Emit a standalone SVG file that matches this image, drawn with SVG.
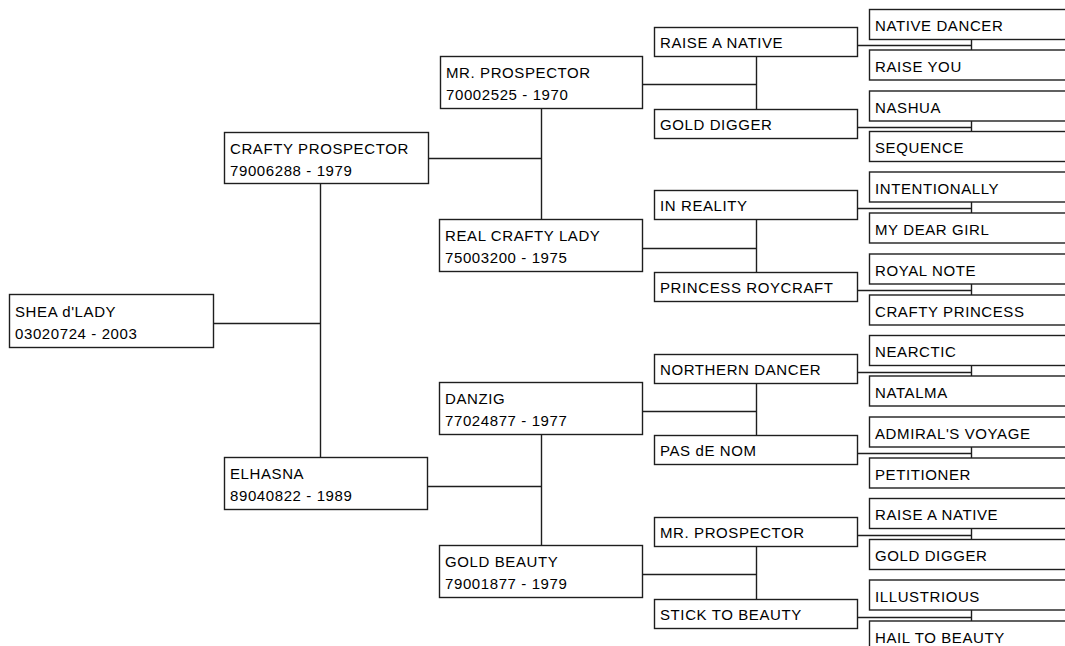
<svg xmlns="http://www.w3.org/2000/svg" width="1065" height="646" viewBox="0 0 1065 646">
<style>
.b{fill:#fff;stroke:#1e1e1e;stroke-width:1.4}
.c{fill:none;stroke:#1e1e1e;stroke-width:1.4}
text{font-family:"Liberation Sans",Arial,sans-serif;font-size:15px;letter-spacing:0.6px;fill:#000}
</style>
<rect width="1065" height="646" fill="#fff"/>
<g id="connectors" class="c">
<path d="M213 323.5H320.5M320.5 183.5V457"/>
<path d="M428 158.5H541.5M541.5 108.5V219"/>
<path d="M427 486.5H541.5M541.5 434.5V545"/>
<path d="M642 84.5H756.5M756.5 56V109"/>
<path d="M642 248.5H756.5M756.5 219.5V272"/>
<path d="M642 411.5H756.5M756.5 383V435.5"/>
<path d="M642 574.5H756.5M756.5 546V599"/>
<path d="M857 45.5H971.5M971.5 39.5V50"/>
<path d="M857 127.5H971.5M971.5 121V131.5"/>
<path d="M857 208.5H971.5M971.5 202V213"/>
<path d="M857 290.5H971.5M971.5 284V295"/>
<path d="M857 372.5H971.5M971.5 365.5V376"/>
<path d="M857 453.5H971.5M971.5 447V458"/>
<path d="M857 535.5H971.5M971.5 528.5V539.5"/>
<path d="M857 617.5H971.5M971.5 610V621"/>
</g>
<g id="n0"><rect class="b" x="9.5" y="294.5" width="204" height="53"/><text x="15" y="317">SHEA d'LADY</text><text x="15" y="339">03020724 - 2003</text></g>
<g id="n1"><rect class="b" x="224.5" y="132.5" width="204" height="51"/><text x="230" y="154">CRAFTY PROSPECTOR</text><text x="230" y="176">79006288 - 1979</text></g>
<g id="n2"><rect class="b" x="224.5" y="457.5" width="203" height="52"/><text x="230" y="479">ELHASNA</text><text x="230" y="501">89040822 - 1989</text></g>
<g id="n3"><rect class="b" x="440.5" y="56.5" width="202" height="52"/><text x="446" y="78">MR. PROSPECTOR</text><text x="446" y="100">70002525 - 1970</text></g>
<g id="n4"><rect class="b" x="439.5" y="219.5" width="203" height="52"/><text x="445" y="241">REAL CRAFTY LADY</text><text x="445" y="263">75003200 - 1975</text></g>
<g id="n5"><rect class="b" x="439.5" y="382.5" width="203" height="52"/><text x="445" y="404">DANZIG</text><text x="445" y="426">77024877 - 1977</text></g>
<g id="n6"><rect class="b" x="439.5" y="545.5" width="203" height="52"/><text x="445" y="567">GOLD BEAUTY</text><text x="445" y="589">79001877 - 1979</text></g>
<g id="n7"><rect class="b" x="654.5" y="27.5" width="203" height="29"/><text x="660" y="48">RAISE A NATIVE</text></g>
<g id="n8"><rect class="b" x="654.5" y="109.5" width="203" height="29"/><text x="660" y="130">GOLD DIGGER</text></g>
<g id="n9"><rect class="b" x="654.5" y="190.5" width="203" height="29"/><text x="660" y="211">IN REALITY</text></g>
<g id="n10"><rect class="b" x="654.5" y="272.5" width="203" height="29"/><text x="660" y="293">PRINCESS ROYCRAFT</text></g>
<g id="n11"><rect class="b" x="654.5" y="354.5" width="203" height="29"/><text x="660" y="375">NORTHERN DANCER</text></g>
<g id="n12"><rect class="b" x="654.5" y="435.5" width="203" height="29"/><text x="660" y="456">PAS dE NOM</text></g>
<g id="n13"><rect class="b" x="654.5" y="517.5" width="203" height="29"/><text x="660" y="538">MR. PROSPECTOR</text></g>
<g id="n14"><rect class="b" x="654.5" y="599.5" width="203" height="29"/><text x="660" y="620">STICK TO BEAUTY</text></g>
<g id="n15"><rect class="b" x="869.5" y="9.5" width="210" height="30"/><text x="875" y="31">NATIVE DANCER</text></g>
<g id="n16"><rect class="b" x="869.5" y="50" width="210" height="30"/><text x="875" y="72">RAISE YOU</text></g>
<g id="n17"><rect class="b" x="869.5" y="91" width="210" height="30"/><text x="875" y="113">NASHUA</text></g>
<g id="n18"><rect class="b" x="869.5" y="131.5" width="210" height="30"/><text x="875" y="153">SEQUENCE</text></g>
<g id="n19"><rect class="b" x="869.5" y="172" width="210" height="30"/><text x="875" y="194">INTENTIONALLY</text></g>
<g id="n20"><rect class="b" x="869.5" y="213" width="210" height="30"/><text x="875" y="235">MY DEAR GIRL</text></g>
<g id="n21"><rect class="b" x="869.5" y="254" width="210" height="30"/><text x="875" y="276">ROYAL NOTE</text></g>
<g id="n22"><rect class="b" x="869.5" y="295" width="210" height="30"/><text x="875" y="317">CRAFTY PRINCESS</text></g>
<g id="n23"><rect class="b" x="869.5" y="335.5" width="210" height="30"/><text x="875" y="357">NEARCTIC</text></g>
<g id="n24"><rect class="b" x="869.5" y="376" width="210" height="30"/><text x="875" y="398">NATALMA</text></g>
<g id="n25"><rect class="b" x="869.5" y="417" width="210" height="30"/><text x="875" y="439">ADMIRAL'S VOYAGE</text></g>
<g id="n26"><rect class="b" x="869.5" y="458" width="210" height="30"/><text x="875" y="480">PETITIONER</text></g>
<g id="n27"><rect class="b" x="869.5" y="498.5" width="210" height="30"/><text x="875" y="520">RAISE A NATIVE</text></g>
<g id="n28"><rect class="b" x="869.5" y="539.5" width="210" height="30"/><text x="875" y="561">GOLD DIGGER</text></g>
<g id="n29"><rect class="b" x="869.5" y="580" width="210" height="30"/><text x="875" y="602">ILLUSTRIOUS</text></g>
<g id="n30"><rect class="b" x="869.5" y="621" width="210" height="30"/><text x="875" y="643">HAIL TO BEAUTY</text></g>
</svg>
